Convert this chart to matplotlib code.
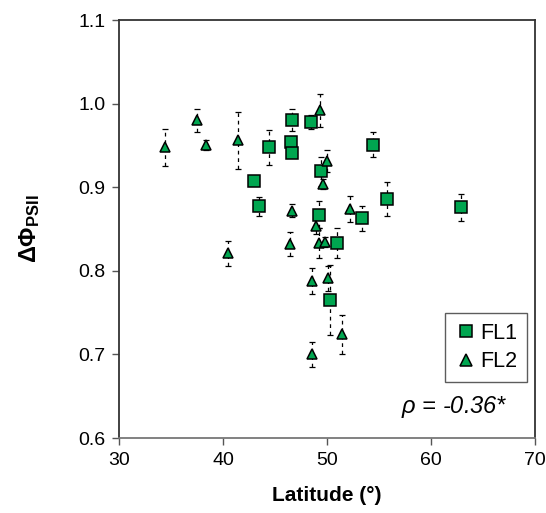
import numpy as np
import matplotlib
matplotlib.use('Agg')
import matplotlib.pyplot as plt

plt.rcParams['font.family'] = ['Liberation Sans', 'DejaVu Sans']
plt.rcParams['mathtext.fontset'] = 'custom'
plt.rcParams['mathtext.rm'] = 'Liberation Sans'
plt.rcParams['mathtext.it'] = 'Liberation Sans:italic'
plt.rcParams['mathtext.bf'] = 'Liberation Sans:bold'

# FL1 (squares)
fl1_lat = [46.6, 46.5, 46.6, 48.5, 44.4, 43.0, 43.5, 49.4, 54.4, 55.8, 53.4, 49.2, 51.0, 50.3, 62.9]
fl1_val = [0.980, 0.954, 0.941, 0.978, 0.948, 0.907, 0.877, 0.919, 0.951, 0.886, 0.863, 0.867, 0.833, 0.765, 0.876]
fl1_err = [0.013, 0.005, 0.005, 0.008, 0.021, 0.003, 0.011, 0.017, 0.015, 0.020, 0.015, 0.016, 0.018, 0.042, 0.016]

# FL2 (triangles)
fl2_lat = [34.4, 37.5, 38.4, 41.4, 49.3, 50.0, 49.6, 46.6, 52.2, 48.9, 40.5, 46.4, 49.2, 49.8, 50.1, 48.6, 51.4, 48.6]
fl2_val = [0.948, 0.980, 0.950, 0.956, 0.992, 0.931, 0.904, 0.872, 0.874, 0.854, 0.821, 0.832, 0.833, 0.834, 0.791, 0.788, 0.724, 0.700]
fl2_err = [0.022, 0.014, 0.006, 0.034, 0.020, 0.013, 0.006, 0.008, 0.015, 0.010, 0.015, 0.014, 0.018, 0.006, 0.015, 0.016, 0.023, 0.015]

green = '#00a650'

fig = plt.figure(figsize=(5.46, 5.13), dpi=100)
ax = fig.add_axes([0.218, 0.146, 0.762, 0.815])

for lat, val, err, mk, ms, lab in [(fl1_lat, fl1_val, fl1_err, 's', 8, 'FL1'),
                                    (fl2_lat, fl2_val, fl2_err, '^', 7.5, 'FL2')]:
    eb = ax.errorbar(lat, val, yerr=err, fmt='none', ecolor='black', elinewidth=0.9,
                     capsize=2.5, capthick=0.9, zorder=1)
    eb[2][0].set_linestyle((0, (3, 3)))
    ax.plot(lat, val, mk, ms=ms, mfc=green, mec='black', mew=1.1, ls='none', label=lab, zorder=3)

ax.set_xlim(30, 70)
ax.set_ylim(0.6, 1.1)
ax.set_xticks([30, 40, 50, 60, 70])
ax.set_yticks(np.arange(0.6, 1.11, 0.1))
ax.yaxis.set_major_formatter(matplotlib.ticker.FormatStrFormatter('%.1f'))
ax.tick_params(labelsize=14, direction='out', length=5, width=1, color='#555555', pad=5)
for s in ax.spines.values():
    s.set_linewidth(1.3)
    s.set_color('#333333')
ax.spines['bottom'].set_color('#777777')

ax.set_xlabel('Latitude (°)', fontsize=15, fontweight='bold', labelpad=12)
ax.set_ylabel(r'$\mathbf{\Delta\Phi}_{\mathbf{PSII}}$', fontsize=17, labelpad=26)

leg = ax.legend(loc='lower right', bbox_to_anchor=(0.981, 0.134), fontsize=15.5,
                frameon=True, fancybox=False, edgecolor='#333333', handletextpad=0.1,
                handlelength=1.1, borderpad=0.45, labelspacing=0.35, borderaxespad=0,
                markerscale=1.1)
leg.get_frame().set_linewidth(1.0)

ax.text(0.935, 0.043, r'$\rho$ = -0.36*', transform=ax.transAxes, ha='right', va='bottom',
        fontsize=17, style='italic')

fig.savefig('out.png', dpi=100)
